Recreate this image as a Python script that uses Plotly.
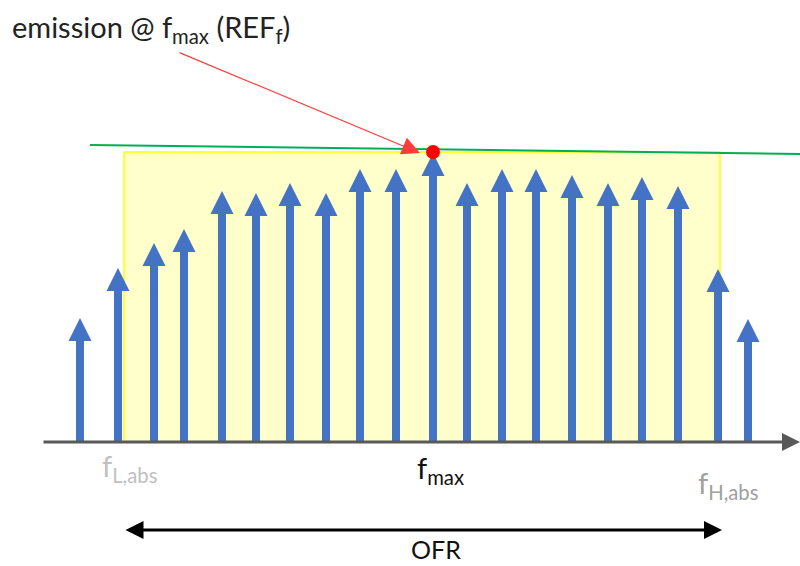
import plotly.graph_objects as go

# spectral lines: frequency position (x units) and emission level (y units above the axis)
FREQS = [80, 118, 154, 184, 222, 256, 290, 326, 360, 396, 433,
         467, 502, 536, 572, 608, 642, 678, 718, 748]
LEVELS = [124, 174, 199, 213, 251, 249, 259, 249, 273, 273, 289,
          259, 273, 273, 267, 259, 265, 256, 173, 123]

OFR_LOW, OFR_HIGH = 124, 720          # f_L,abs .. f_H,abs
REF_LINE_X = [90, 800]
REF_LINE_Y = [297, 288]
F_MAX = 433
F_MAX_LEVEL = 290

TITLE = "emission @ f<sub>max</sub> (REF<sub>f</sub>)"
LABEL_LOW = "f<sub>L,abs</sub>"
LABEL_MAX = "f<sub>max</sub>"
LABEL_HIGH = "f<sub>H,abs</sub>"
LABEL_OFR = "OFR"

BLUE = "#4472c4"
FONT = "Lato, 'Open Sans', sans-serif"

fig = go.Figure()

# stems
fig.add_trace(go.Bar(
    x=FREQS,
    y=[v - 12 for v in LEVELS],
    width=8,
    marker=dict(color=BLUE, line=dict(width=0)),
    hoverinfo="skip",
    showlegend=False,
))
# arrow heads, tip sits on the data point
fig.add_trace(go.Scatter(
    x=FREQS,
    y=LEVELS,
    mode="markers",
    marker=dict(symbol="arrow-up", size=23, color=BLUE, line=dict(width=0)),
    hoverinfo="skip",
    showlegend=False,
))

# reference level line
fig.add_trace(go.Scatter(
    x=REF_LINE_X,
    y=REF_LINE_Y,
    mode="lines",
    line=dict(color="#00b050", width=2),
    hoverinfo="skip",
    showlegend=False,
))
# emission at f_max
fig.add_trace(go.Scatter(
    x=[F_MAX],
    y=[F_MAX_LEVEL],
    mode="markers",
    marker=dict(color="#ff0000", size=14, line=dict(width=0)),
    hoverinfo="skip",
    showlegend=False,
))

# OFR box
fig.add_shape(
    type="rect", x0=OFR_LOW, x1=OFR_HIGH, y0=0, y1=F_MAX_LEVEL,
    fillcolor="#ffffcc", line=dict(color="#ffff00", width=1.5), layer="below",
)

# frequency axis with arrow
fig.add_annotation(
    x=800, y=0, ax=42, ay=0, xref="x", yref="y", axref="x", ayref="y",
    text="", showarrow=True, arrowhead=2, arrowsize=1.2, arrowwidth=3, arrowcolor="#595959",
)
# pointer from the title to the red dot
fig.add_annotation(
    x=420, y=289, ax=178, ay=390, xref="x", yref="y", axref="x", ayref="y",
    text="", showarrow=True, arrowhead=2, arrowsize=3, arrowwidth=1.2, arrowcolor="#ff3b3b",
)
# OFR span
fig.add_annotation(
    x=OFR_HIGH + 2, y=-88, ax=OFR_LOW, ay=-88, xref="x", yref="y", axref="x", ayref="y",
    text="", showarrow=True, arrowhead=2, startarrowhead=2, arrowside="end+start",
    arrowsize=1.2, startarrowsize=1.2, arrowwidth=3, arrowcolor="#000000",
)

texts = [
    (TITLE, 10, 414, "left", "#222222", 29),
    (LABEL_LOW, 129, -25, "center", "#bfbfbf", 29),
    (LABEL_MAX, 440, -27, "center", "#111111", 29),
    (LABEL_HIGH, 728, -42, "center", "#a0a0a0", 29),
    (LABEL_OFR, 436, -107, "center", "#111111", 25),
]
for txt, x, y, anchor, color, size in texts:
    fig.add_annotation(
        x=x, y=y, xref="x", yref="y", text=txt, showarrow=False,
        xanchor=anchor, yanchor="middle", font=dict(family=FONT, size=size, color=color),
    )

fig.update_layout(
    width=800, height=566,
    margin=dict(l=0, r=0, t=0, b=0),
    paper_bgcolor="#ffffff",
    plot_bgcolor="#ffffff",
    bargap=0,
)
fig.update_xaxes(range=[0, 800], visible=False, fixedrange=True)
fig.update_yaxes(range=[-124, 442], visible=False, fixedrange=True)

# drop the page's default body margin so the figure sits at the window's corner
fig.write_html(
    "out.html",
    config=dict(displayModeBar=False),
    post_script="document.body.style.margin='0';document.body.style.overflow='hidden';",
)
